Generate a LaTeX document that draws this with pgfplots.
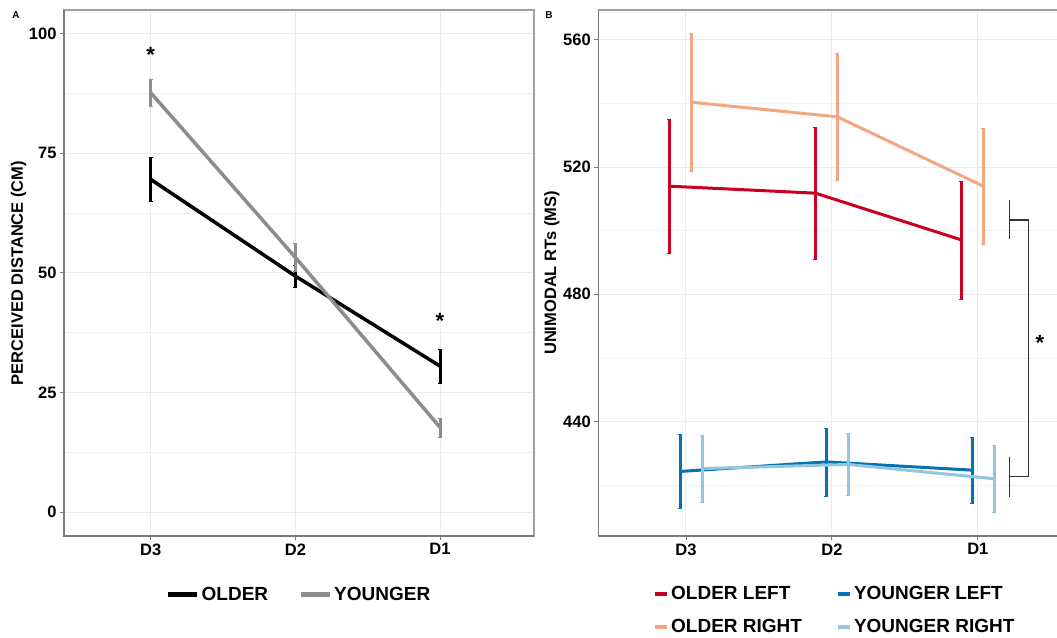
\documentclass[border=0pt]{standalone}
\usepackage{pgfplots}
\pgfplotsset{compat=1.18}
\usepackage{fontspec}
\setmainfont{Liberation Sans}
\definecolor{oleft}{HTML}{CA0020}
\definecolor{oright}{HTML}{F4A582}
\definecolor{yleft}{HTML}{0571B0}
\definecolor{yright}{HTML}{92C5DE}
\definecolor{ygray}{HTML}{8C8C8C}
\definecolor{gridc}{HTML}{EBEBEB}
\definecolor{boxc}{HTML}{A0A0A0}
\definecolor{axc}{HTML}{7A7A7A}

\pgfplotstableread{
x y e
0 69.5 4.6
1 49.3 2.3
2 30.5 3.5
}\olderA
\pgfplotstableread{
x y e
0 87.6 2.8
1 53.2 2.9
2 17.7 2.0
}\youngerA
\pgfplotstableread{
x y e
-0.1125 514.0 21.0
0.8875 511.8 20.8
1.8875 497.1 18.5
}\olB
\pgfplotstableread{
x y e
0.0375 540.4 21.6
1.0375 535.8 20.0
2.0375 514.0 18.3
}\orB
\pgfplotstableread{
x y e
-0.0375 424.3 11.6
0.9625 427.3 10.7
1.9625 424.7 10.5
}\ylB
\pgfplotstableread{
x y e
0.1125 425.2 10.6
1.1125 426.5 9.7
2.1125 422.0 10.5
}\yrB

\pgfplotsset{
 mystyle/.style={
   scale only axis,
   axis line style={boxc, line width=1.2pt},
   tick align=outside,
   tick pos=left,
   major tick length=4pt,
   minor tick length=0pt,
   tick style={axc, line width=0.8pt},
   xtick={0,1,2}, xticklabels={D3,D2,D1},
   ymajorgrids, xmajorgrids, yminorgrids,
   major grid style={gridc, line width=1pt},
   minor grid style={gridc!70!white, line width=0.7pt},
   ticklabel style={font=\bfseries\fontsize{16.5}{18}\selectfont},
   /pgf/number format/assume math mode=true,
   label style={font=\bfseries\fontsize{16.5}{19}\selectfont},
   legend cell align=left,
   legend style={draw=none, fill=none, font=\bfseries\fontsize{19}{22}\selectfont, legend columns=2,
     /tikz/every even column/.append style={column sep=28pt}},
   clip=false,
 },
 ebar/.style={error bars/.cd, y dir=both, y explicit,
   error bar style={line width=3pt},
   error mark=|,
   error mark options={line width=3pt, mark size=3.5pt}},
}

\begin{document}
\begin{tikzpicture}
\useasboundingbox (0pt,0pt) rectangle (1057pt,637pt);

% Panel A
\begin{axis}[mystyle,
  at={(64pt,101pt)}, anchor=south west,
  width=470pt, height=526pt,
  xmin=-0.6, xmax=2.65, ymin=-5, ymax=104.9,
  ytick={0,25,50,75,100},
  minor ytick={12.5,37.5,62.5,87.5},
  ylabel={PERCEIVED DISTANCE (CM)},
  ylabel style={at={(axis description cs:-0.0968,0.5)}, anchor=center},
  legend style={at={(axis description cs:0.5,-0.112)}, anchor=center},
  legend image code/.code={\draw[line width=5pt] (0pt,0pt) -- (29pt,0pt);},
]
\addplot[black, line width=3.5pt, mark=none, ebar, error bar style={black}, error mark options={black}] table[x=x,y=y,y error=e] {\olderA};
\addlegendentry{OLDER}
\addplot[ygray, line width=3.5pt, mark=none, ebar, error bar style={ygray}, error mark options={ygray}] table[x=x,y=y,y error=e] {\youngerA};
\addlegendentry{YOUNGER}
\node[font=\bfseries\fontsize{22}{24}\selectfont] at (axis cs:0,95.5) {*};
\node[font=\bfseries\fontsize{22}{24}\selectfont] at (axis cs:2,40) {*};
\draw[axc, line width=1.2pt] (axis description cs:0,1) -- (axis description cs:0,0) -- (axis description cs:1,0);
\end{axis}

% Panel B
\begin{axis}[mystyle,
  at={(598.3pt,101pt)}, anchor=south west,
  width=473pt, height=526pt,
  xmin=-0.6, xmax=2.64, ymin=404, ymax=569.4,
  ytick={440,480,520,560},
  minor ytick={420,460,500,540},
  ylabel={UNIMODAL RTs (MS)},
  ylabel style={at={(axis description cs:-0.098,0.5)}, anchor=center},
  legend style={at={(axis description cs:0.5,-0.1416)}, anchor=center,
    /tikz/every even column/.append style={column sep=32pt}, row sep=14pt},
  legend image code/.code={\draw[line width=4pt] (0pt,0pt) -- (12pt,0pt);},
]
\addplot[oleft, line width=3pt, mark=none, ebar, error bar style={oleft}, error mark options={oleft}] table[x=x,y=y,y error=e] {\olB};
\addlegendentry{OLDER LEFT}
\addplot[yleft, line width=3pt, mark=none, ebar, error bar style={yleft}, error mark options={yleft}] table[x=x,y=y,y error=e] {\ylB};
\addlegendentry{YOUNGER LEFT}
\addplot[oright, line width=3pt, mark=none, ebar, error bar style={oright}, error mark options={oright}] table[x=x,y=y,y error=e] {\orB};
\addlegendentry{OLDER RIGHT}
\addplot[yright, line width=3pt, mark=none, ebar, error bar style={yright}, error mark options={yright}] table[x=x,y=y,y error=e] {\yrB};
\addlegendentry{YOUNGER RIGHT}
\addplot[black!80, line width=1.3pt, forget plot] coordinates {(2.215,509.7) (2.215,497.3)};
\addplot[black!80, line width=1.3pt, forget plot] coordinates {(2.215,503.4) (2.348,503.4) (2.348,422.6) (2.215,422.6)};
\addplot[black!80, line width=1.3pt, forget plot] coordinates {(2.215,428.9) (2.215,416.3)};
\node[font=\bfseries\fontsize{22}{24}\selectfont] at (axis cs:2.425,464.6) {*};
\draw[axc, line width=1.2pt] (axis description cs:0,1) -- (axis description cs:0,0) -- (axis description cs:1,0);
\end{axis}

\node[font=\bfseries\fontsize{10}{12}\selectfont] at (16pt,622pt) {A};
\node[font=\bfseries\fontsize{10}{12}\selectfont] at (549pt,622pt) {B};
\end{tikzpicture}
\end{document}
